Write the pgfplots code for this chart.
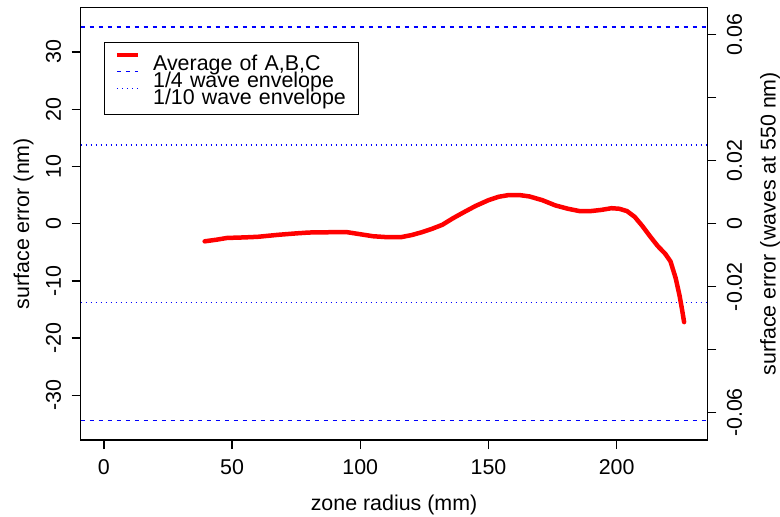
\documentclass[border=0pt]{standalone}
\usepackage{fontspec}
\setmainfont{Liberation Sans}
\usepackage{pgfplots}
\pgfplotsset{compat=1.18}
\newcommand\rf{\fontsize{21.4}{25.7}\selectfont}
\begin{document}
\begin{tikzpicture}
\begin{axis}[
  at={(0,0)}, anchor=south west,
  scale only axis, width=626.6pt, height=432.7pt,
  xmin=-9.05, xmax=235.35, ymin=-37.8, ymax=37.8,
  axis line style={black, line width=1.3pt},
  tick style={black, line width=1.3pt},
  major tick length=9pt, tick align=outside,
  xtick pos=left, ytick pos=left,
  xtick={0,50,100,150,200}, xticklabels={0,50,100,150,200},
  ytick={-30,-20,-10,0,10,20,30}, yticklabels={-30,-20,-10,0,10,20,30},
  tick label style={font=\rf, inner sep=0pt},
  xticklabel style={anchor=north, yshift=-10.4pt},
  yticklabel style={xshift=-10.4pt, rotate=90, anchor=south},
  xlabel={zone radius (mm)}, ylabel={surface error (nm)},
  every axis x label/.style={at={(rel axis cs:0.5,0)}, yshift=-65pt, anchor=center, font=\rf},
  every axis y label/.style={at={(rel axis cs:0,0.5)}, xshift=-57.2pt, rotate=90, anchor=center, font=\rf},
  legend image code/.code={\draw[#1] (0pt,7.7pt) -- (21pt,7.7pt);},
  legend style={at={(rel axis cs:0,1)}, anchor=north west, xshift=23.3pt, yshift=-34.4pt,
    draw=black, line width=1.3pt, inner xsep=10pt, inner ysep=10.3pt, font=\rf,
    nodes={inner sep=0pt, text height=16.7pt, text depth=0pt, text width=195pt, align=left},
    column sep=13pt, row sep=0pt},
]
\addlegendimage{red, line width=4.5pt}
\addlegendentry{Average of A,B,C}
\addlegendimage{blue, line width=1.3pt, dash pattern=on 4.5pt off 4.5pt}
\addlegendentry{1/4 wave envelope}
\addlegendimage{blue, line width=1.3pt, dash pattern=on 1.3pt off 3.7pt}
\addlegendentry{1/10 wave envelope}
\addplot[blue, line width=1.3pt, dash pattern=on 4.5pt off 4.5pt, forget plot] coordinates {(-9.05,34.375) (235.35,34.375)};
\addplot[blue, line width=1.3pt, dash pattern=on 4.5pt off 4.5pt, forget plot] coordinates {(-9.05,-34.375) (235.35,-34.375)};
\addplot[blue, line width=1.3pt, dash pattern=on 1.3pt off 3.7pt, forget plot] coordinates {(-9.05,13.75) (235.35,13.75)};
\addplot[blue, line width=1.3pt, dash pattern=on 1.3pt off 3.7pt, forget plot] coordinates {(-9.05,-13.75) (235.35,-13.75)};
\addplot[red, line width=4.5pt, line join=round, line cap=round, forget plot] table {
x y
39.3 -3.09
44 -2.8
48 -2.5
55 -2.4
60 -2.3
68 -1.95
75 -1.7
80 -1.55
88 -1.5
95 -1.5
100 -1.85
105 -2.2
110 -2.35
116 -2.35
120 -2.0
124 -1.5
128 -0.9
132 -0.2
136 0.9
140 1.9
145 3.1
150 4.1
154 4.7
158 5.0
162 5.0
166 4.75
171 4.1
176 3.2
181 2.6
185.5 2.2
190 2.2
194 2.4
198 2.7
201 2.6
204 2.2
207 1.2
210 -0.4
213 -2.2
216 -3.9
219 -5.3
221 -6.6
223 -9.5
224.5 -12.5
225.5 -15
226.3 -17.2
};
\end{axis}
\begin{axis}[
  at={(0,0)}, anchor=south west,
  scale only axis, width=626.6pt, height=432.7pt,
  xmin=-9.05, xmax=235.35, ymin=-0.068727, ymax=0.068727,
  axis x line=none, axis y line*=right,
  axis line style={black, line width=1.3pt},
  tick style={black, line width=1.3pt},
  major tick length=9pt, tick align=outside,
  scaled y ticks=false,
  ytick={-0.06,-0.04,-0.02,0,0.02,0.04,0.06},
  yticklabels={-0.06,,-0.02,0,0.02,,0.06},
  tick label style={font=\rf, inner sep=0pt},
  yticklabel style={xshift=10.4pt, rotate=90, anchor=north},
  ylabel={surface error (waves at 550 nm)},
  every axis y label/.style={at={(rel axis cs:1,0.5)}, xshift=62.7pt, rotate=90, anchor=center, font=\rf},
]
\addplot[draw=none] coordinates {(0,0)};
\end{axis}
\pgfresetboundingbox
\path[use as bounding box] (-80.7pt,-77pt) rectangle (699.3pt,440pt);
\end{tikzpicture}
\end{document}
